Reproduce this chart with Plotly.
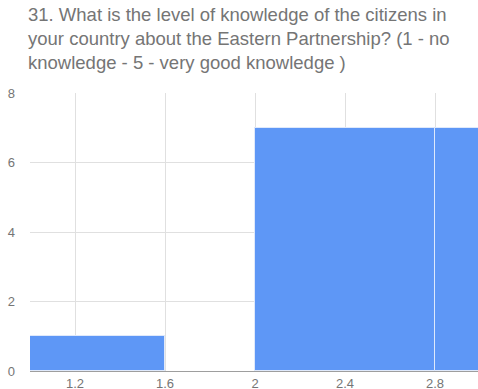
import plotly.graph_objects as go

# Histogram buckets (lower edge, upper edge) and item counts
bucket_lo = [0.8, 2.0, 2.8]
bucket_hi = [1.6, 2.8, 3.6]
counts = [1, 7, 7]

x_ticks = [1.2, 1.6, 2.0, 2.4, 2.8]
x_tick_text = ["1.2", "1.6", "2", "2.4", "2.8"]
y_ticks = [0, 2, 4, 6, 8]

title_text = ("31. What is the level of knowledge of the citizens in<br>"
              "your country about the Eastern Partnership? (1 - no<br>"
              "knowledge - 5 - very good knowledge )")

centers = [(a + b) / 2 for a, b in zip(bucket_lo, bucket_hi)]
widths = [b - a for a, b in zip(bucket_lo, bucket_hi)]

fig = go.Figure(go.Bar(
    x=centers,
    y=counts,
    width=widths,
    marker=dict(color="#5e97f6", line=dict(color="#dfe9fb", width=1)),
    hoverinfo="skip",
))

grey = "#757575"
font_family = "Liberation Sans, Arial, sans-serif"
fig.update_layout(
    width=478, height=389,
    margin=dict(l=30, r=0, t=93, b=18),
    paper_bgcolor="white", plot_bgcolor="white",
    font=dict(family=font_family, color=grey, size=13),
    showlegend=False,
    bargap=0,
    xaxis=dict(
        range=[1.0, 1.0 + 448 / 225],
        tickvals=x_ticks, ticktext=x_tick_text,
        showgrid=True, gridcolor="#e0e0e0", gridwidth=1,
        zeroline=False, showline=True, linecolor="#9e9e9e", linewidth=1,
        ticks="", ticklabelstandoff=0, automargin=False,
        tickfont=dict(size=13, color=grey),
        fixedrange=True,
    ),
    yaxis=dict(
        range=[0, 8],
        tickvals=y_ticks,
        showgrid=True, gridcolor="#e0e0e0", gridwidth=1,
        zeroline=False, showline=False,
        ticks="", ticklabelstandoff=14, automargin=False,
        tickfont=dict(size=13, color=grey),
        fixedrange=True,
    ),
    annotations=[dict(
        text=title_text,
        xref="paper", x=0, xanchor="left", xshift=-2,
        yref="paper", y=(278 + 93 - 4) / 278, yanchor="top",
        showarrow=False, align="left", borderpad=0, borderwidth=0,
        font=dict(size=18.5, color=grey, family=font_family),
    )],
)

fig.write_html("out.html", config=dict(displayModeBar=False))
